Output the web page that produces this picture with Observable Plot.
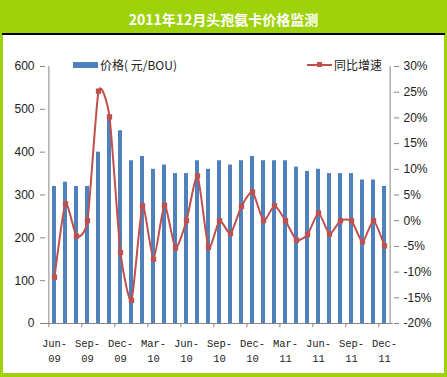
<!DOCTYPE html>
<html><head><meta charset="utf-8">
<script src="https://cdn.jsdelivr.net/npm/d3@7"></script>
<script src="https://cdn.jsdelivr.net/npm/@observablehq/plot@0.6"></script>
<style>
body{margin:0;}
#wrap{position:relative;width:447px;height:377px;background:#9ED20A;overflow:hidden;font-family:"Noto Sans CJK SC",sans-serif;}
#title{position:absolute;left:0;top:9px;width:447px;text-align:center;color:#fff;font-weight:bold;font-size:14px;line-height:20px;}
#rule{position:absolute;left:2px;top:33px;width:443px;height:2px;background:#000;}
#panel{position:absolute;left:3px;top:35px;width:441px;height:338px;background:#fff;}
#chart{position:absolute;left:3px;top:35px;}
.leg{position:absolute;font-size:12px;line-height:14px;color:#222;white-space:nowrap;}
.sw{position:absolute;}
</style></head>
<body><div id="wrap">
<div id="title">2011年12月头孢氨卡价格监测</div>
<div id="rule"></div>
<div id="panel"></div>
<div id="chart"></div>
<div class="sw" style="left:73px;top:62px;width:25px;height:6px;background:#4F81BD"></div>
<div class="leg" style="left:100px;top:58px;">价格( 元/BOU)</div>
<div class="sw" style="left:307px;top:64px;width:25px;height:2px;background:#C0504D"></div>
<div class="sw" style="left:317px;top:62px;width:5px;height:5px;background:#C0504D"></div>
<div class="leg" style="left:334px;top:58px;">同比增速</div>
</div>
<script>
const months = ["Jun-09","Jul-09","Aug-09","Sep-09","Oct-09","Nov-09","Dec-09",
  "Jan-10","Feb-10","Mar-10","Apr-10","May-10","Jun-10","Jul-10","Aug-10","Sep-10","Oct-10","Nov-10","Dec-10",
  "Jan-11","Feb-11","Mar-11","Apr-11","May-11","Jun-11","Jul-11","Aug-11","Sep-11","Oct-11","Nov-11","Dec-11"];
const price = [320,330,320,320,400,480,450,
  380,390,360,370,350,350,380,360,380,370,380,390,
  380,380,380,365,355,360,350,350,350,335,335,320];
const yoy = [-11.0,3.3,-3.0,0.0,25.2,20.2,-6.2,
  -15.5,2.9,-7.5,3.0,-5.3,0.0,8.7,-5.2,0.0,-2.5,2.8,5.6,
  0.0,2.9,0.0,-3.8,-2.7,1.5,-2.6,0.0,0.0,-4.1,0.0,-4.9];
const leftTicks = [0,100,200,300,400,500,600];
const rightTicks = [-20,-15,-10,-5,0,5,10,15,20,25,30];
const tickMonths = ["Jun-09","Sep-09","Dec-09","Mar-10","Jun-10","Sep-10","Dec-10","Mar-11","Jun-11","Sep-11","Dec-11"];

const W = 441, H = 338, mL = 42, mR = 51, mT = 31, mB = 50;
const step = (W - mL - mR) / months.length;
const data = months.map((m, i) => ({month: m, price: price[i], yoy: yoy[i]}));
const pctToY = p => (p + 20) * 12;
const axisGray = "#868686";

const chart = Plot.plot({
  width: W, height: H, marginLeft: mL, marginRight: mR, marginTop: mT, marginBottom: mB,
  style: {background: "transparent", fontFamily: "Liberation Sans", fontSize: "12px", color: "#222"},
  x: {type: "band", domain: months, paddingInner: 0.6, paddingOuter: 0.3, axis: null},
  y: {domain: [0, 600], axis: null},
  marks: [
    Plot.barY(data, {x: "month", y: "price", fill: "#4F81BD"}),
    Plot.ruleY([0], {stroke: axisGray}),
    Plot.ruleX([months[0]], {x: d => d, y1: 0, y2: 600, dx: -step / 2, stroke: axisGray}),
    Plot.ruleX([months[months.length - 1]], {x: d => d, y1: 0, y2: 600, dx: step / 2, stroke: axisGray}),
    Plot.ruleX(tickMonths, {x: d => d, y1: 0, y2: -10, dx: -step / 2, stroke: axisGray}),
    Plot.axisY({anchor: "left", label: null, ticks: leftTicks, tickSize: 5, tickPadding: 6, stroke: axisGray, color: "#222", fontSize: 12, tickFormat: d => String(d)}),
    Plot.axisY({anchor: "right", label: null, ticks: rightTicks.map(pctToY), tickSize: 5, tickPadding: 5, stroke: axisGray, color: "#222", fontSize: 12,
      tickFormat: v => `${Math.round(v / 12 - 20)}%`}),
    Plot.text(tickMonths, {x: d => d, frameAnchor: "bottom", text: d => d.replace("-", "-\n"), dy: 26, lineHeight: 1.4, lineAnchor: "middle",
      fontFamily: "Liberation Mono", fontSize: 10.5, fill: "#222"}),
    Plot.line(data, {x: "month", y: d => pctToY(d.yoy), stroke: "#C0504D", strokeWidth: 2, curve: "cardinal", tension: 0.4}),
    Plot.dot(data, {x: "month", y: d => pctToY(d.yoy), symbol: "square", r: 3, fill: "#C0504D"})
  ]
});
document.getElementById("chart").appendChild(chart);
</script>
</body></html>
